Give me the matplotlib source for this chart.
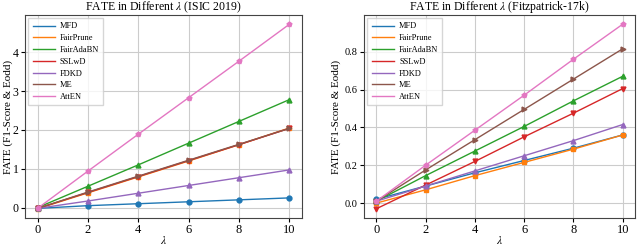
import matplotlib
matplotlib.use('Agg')
import matplotlib.pyplot as plt

plt.rcParams['font.family'] = ['Liberation Serif', 'DejaVu Serif']
plt.rcParams['mathtext.fontset'] = 'stix'

lam = [0, 2, 4, 6, 8, 10]
methods = ['MFD', 'FairPrune', 'FairAdaBN', 'SSLwD', 'FDKD', 'ME', 'AttEN']
markers = ['o', 's', '^', 'v', '^', '>', 'p']

# ISIC 2019
isic = {
    'MFD':       [-0.02, 0.05, 0.10, 0.15, 0.20, 0.25],
    'FairPrune': [-0.03, 0.38, 0.79, 1.20, 1.62, 2.05],
    'FairAdaBN': [0.00, 0.55, 1.10, 1.66, 2.22, 2.78],
    'SSLwD':     [-0.02, 0.39, 0.80, 1.21, 1.62, 2.04],
    'FDKD':      [-0.02, 0.17, 0.37, 0.57, 0.77, 0.97],
    'ME':        [-0.02, 0.40, 0.81, 1.22, 1.63, 2.04],
    'AttEN':     [-0.02, 0.94, 1.89, 2.83, 3.77, 4.72],
}

# Fitzpatrick-17k
fitz = {
    'MFD':       [0.02, 0.09, 0.16, 0.225, 0.29, 0.36],
    'FairPrune': [0.00, 0.07, 0.145, 0.215, 0.285, 0.36],
    'FairAdaBN': [0.01, 0.145, 0.275, 0.405, 0.54, 0.67],
    'SSLwD':     [-0.03, 0.095, 0.22, 0.35, 0.475, 0.605],
    'FDKD':      [0.01, 0.09, 0.17, 0.25, 0.33, 0.415],
    'ME':        [0.01, 0.175, 0.335, 0.495, 0.655, 0.815],
    'AttEN':     [0.01, 0.20, 0.385, 0.57, 0.76, 0.945],
}

W, H = 640, 246
fig = plt.figure(figsize=(6.4, 2.46), dpi=100)
ax1 = fig.add_axes([25 / W, 28 / H, 277 / W, 203 / H])
ax2 = fig.add_axes([364 / W, 28 / H, 271 / W, 203 / H])

panels = [(ax1, isic, 'FATE in Different $\\lambda$ (ISIC 2019)', 8.5, -0.042),
          (ax2, fitz, 'FATE in Different $\\lambda$ (Fitzpatrick-17k)', 7.5, -0.085)]

for ax, data, title, ysize, ylx in panels:
    for i, m in enumerate(methods):
        ax.plot(lam, data[m], marker=markers[i], markersize=3.5, linewidth=1,
                color='C%d' % i, label=m)
    ax.set_title(title, fontsize=8.5, pad=2)
    ax.set_xlabel('$\\lambda$', fontsize=8.5, labelpad=-1)
    ax.set_ylabel('FATE (F1-Score & Eodd)', fontsize=8)
    ax.yaxis.set_label_coords(ylx, 0.5)
    ax.set_xticks(lam)
    ax.tick_params(axis='x', labelsize=9, length=3, pad=1.5)
    ax.tick_params(axis='y', labelsize=ysize, length=3, pad=1.5)
    ax.grid(True, color='#cccccc', linewidth=0.8)
    for s in ax.spines.values():
        s.set_color('#444444')
    leg = ax.legend(loc='upper left', fontsize=6, handlelength=2.7,
                    labelspacing=0.45, borderpad=0.5, handletextpad=0.6,
                    fancybox=False, borderaxespad=0.4)
    for line in leg.get_lines():
        line.set_marker('')
        line.set_linewidth(1)

ax2.set_yticks([0.0, 0.2, 0.4, 0.6, 0.8])

fig.savefig('out.png', dpi=100)
